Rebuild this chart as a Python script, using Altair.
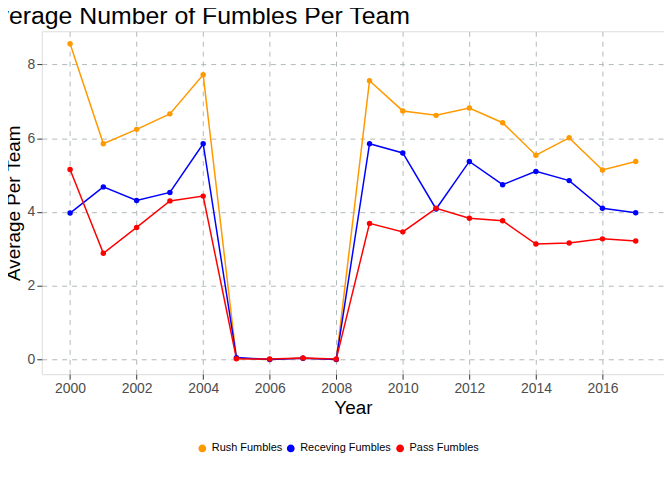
import altair as alt
import pandas as pd

years = list(range(2000, 2018))
rush = [8.56, 5.85, 6.24, 6.66, 7.72, 0.03, 0.0, 0.03, 0.0, 7.56, 6.74, 6.62, 6.82, 6.42, 5.54, 6.01, 5.14, 5.37]
receiving = [3.97, 4.68, 4.31, 4.53, 5.85, 0.05, 0.0, 0.03, 0.0, 5.85, 5.6, 4.08, 5.37, 4.74, 5.1, 4.85, 4.1, 3.98]
passing = [5.15, 2.88, 3.58, 4.3, 4.43, 0.02, 0.01, 0.04, 0.01, 3.69, 3.46, 4.1, 3.83, 3.76, 3.13, 3.16, 3.27, 3.21]

series = ["Rush Fumbles", "Receving Fumbles", "Pass Fumbles"]
colors = ["#FF9900", "#0000FF", "#FF0000"]

rows = []
for name, vals in zip(series, [rush, receiving, passing]):
    for y, v in zip(years, vals):
        rows.append({"Year": y, "Value": v, "Type": name})
df = pd.DataFrame(rows)

color = alt.Color("Type:N", scale=alt.Scale(domain=series, range=colors),
                  legend=alt.Legend(title=None, orient="none", direction="horizontal",
                                    legendX=156, legendY=414,
                                    labelFontSize=11, symbolType="circle",
                                    columnPadding=2, symbolSize=40))

axis_style = dict(titleFontSize=19, titleFontWeight="normal", labelFontSize=14,
                  labelColor="#4d4d4d", titleColor="black", domain=False,
                  tickColor="#333333", grid=True, gridDash=[5, 5], gridColor="#b0b8b8")

base = alt.Chart(df).encode(
    alt.X("Year:Q", scale=alt.Scale(domain=[1999.15, 2017.85], nice=False, zero=False),
          axis=alt.Axis(title="Year", values=list(range(2000, 2018, 2)), format="d", **axis_style)),
    alt.Y("Value:Q", scale=alt.Scale(domain=[-0.4, 8.9], nice=False),
          axis=alt.Axis(title="Average Per Team", values=[0, 2, 4, 6, 8], **axis_style)),
    color,
)

chart = (base.mark_line(strokeWidth=1.5) + base.mark_point(filled=True, size=30, opacity=1)).properties(
    width=626, height=345,
    title=alt.TitleParams("Average Number of Fumbles Per Team", anchor="start", fontSize=25,
                          fontWeight="normal", offset=2, dx=-24),
    autosize="none",
    padding={"left": 34, "top": 22, "right": 0, "bottom": 100},
).configure_view(stroke=None).configure(font="Liberation Sans")

chart.save("out.html", embed_options={"renderer": "svg", "actions": False})
